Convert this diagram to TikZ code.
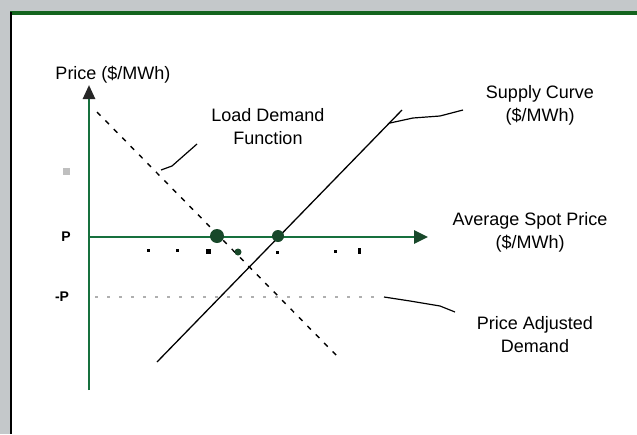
\documentclass[tikz,border=0pt]{standalone}
\usepackage{fontspec}
\setmainfont{Liberation Sans}
\usetikzlibrary{arrows.meta}
\definecolor{axisgreen}{RGB}{22,112,62}
\definecolor{dotgreen}{RGB}{24,72,42}
\definecolor{framegray}{RGB}{196,200,202}
\definecolor{framegreen}{RGB}{20,100,30}
\definecolor{dotgray}{RGB}{175,175,175}
\begin{document}
\begin{tikzpicture}[x=1pt,y=-1pt,
  lbl/.style={font=\fontsize{18}{23}\selectfont, align=center, inner sep=0pt, text=black},
  axisline/.style={draw=axisgreen, line width=2.6pt},
  curveline/.style={draw=black, line width=1.3pt},
  demandline/.style={draw=black, line width=1.4pt, dash pattern=on 5pt off 7pt},
  levelline/.style={draw=dotgray, line width=1.4pt, dash pattern=on 3pt off 9pt},
  leader/.style={draw=black, line width=1.2pt},
  bigdot/.style={circle, fill=dotgreen, inner sep=0pt, minimum size=14pt},
  smalldot/.style={circle, fill=dotgreen, inner sep=0pt, minimum size=7pt},
  tickmark/.style={rectangle, fill=black, inner sep=0pt, minimum size=3pt}]
\useasboundingbox (0,0) rectangle (637,434);
% frame
\fill[framegray] (0,0) rectangle (637,434);
\fill[white] (11,14) rectangle (637,434);
\draw[framegreen, line width=3.5pt] (10,13) -- (637,13);
\draw[black, line width=2.5pt] (11,12) -- (11,434);
% axes
\coordinate (ybot) at (89,390);
\coordinate (ytop) at (89,85);
\coordinate (xorg) at (89,237);
\coordinate (xend) at (428,237);
\draw[axisline, -{Triangle[length=14pt,width=12pt,color=black!85]}] (ybot) -- (ytop);
\draw[axisline, -{Triangle[length=14pt,width=13pt,color=dotgreen]}] (xorg) -- (xend);
% curves
\coordinate (d1) at (97,112);
\coordinate (d2) at (338,357);
\coordinate (s1) at (157,362);
\coordinate (s2) at (402,110);
\coordinate (l1) at (95,297);
\coordinate (l2) at (378,297);
\draw[demandline] (d1) -- (d2);
\draw[curveline] (s1) -- (s2);
\draw[levelline] (l1) -- (l2);
% dots
\node[bigdot] (pd) at (217,236) {};
\node[bigdot, minimum size=12pt] (ps) at (278,236) {};
\node[smalldot] (pm) at (238,252) {};
% ticks below axis
\node[tickmark] (t1) at (148,250) {};
\node[tickmark] (t2) at (177,250) {};
\node[tickmark, minimum size=5pt] (t3) at (208,251) {};
\node[tickmark] (t4) at (277,252) {};
\node[tickmark] (t5) at (335,251) {};
\node[tickmark, minimum width=3pt, minimum height=6pt] (t6) at (359,251) {};
% axis value labels
\node[rectangle, fill=black!25, inner sep=0pt, minimum size=7pt] (v1) at (66,171) {};
\node[lbl, font=\fontsize{14}{16}\selectfont\bfseries] (v2) at (66,237) {P};
\node[lbl, font=\fontsize{14}{16}\selectfont\bfseries] (v3) at (62,297) {-P};
% labels
\node[lbl] (ylab) at (113,75) {Price (\$/MWh)};
\node[lbl] (dem) at (268,127) {Load Demand\\Function};
\node[lbl] (sup) at (540,105) {Supply Curve\\(\$/MWh)};
\node[lbl] (avg) at (530,232) {Average Spot Price\\(\$/MWh)};
\node[lbl] (adj) at (535,335) {Price Adjusted\\Demand};
% leaders
\coordinate (dl1) at (161,170);
\coordinate (dl2) at (197,144);
\draw[leader] (dl1) -- (172,166) -- (dl2);
\coordinate (sl1) at (390,123);
\coordinate (sl2) at (463,110);
\draw[leader] (sl1) -- (413,118) -- (440,116) -- (sl2);
\coordinate (al1) at (384,297);
\coordinate (al2) at (455,312);
\draw[leader] (al1) -- (410,301) -- (440,306) -- (al2);
\end{tikzpicture}
\end{document}
